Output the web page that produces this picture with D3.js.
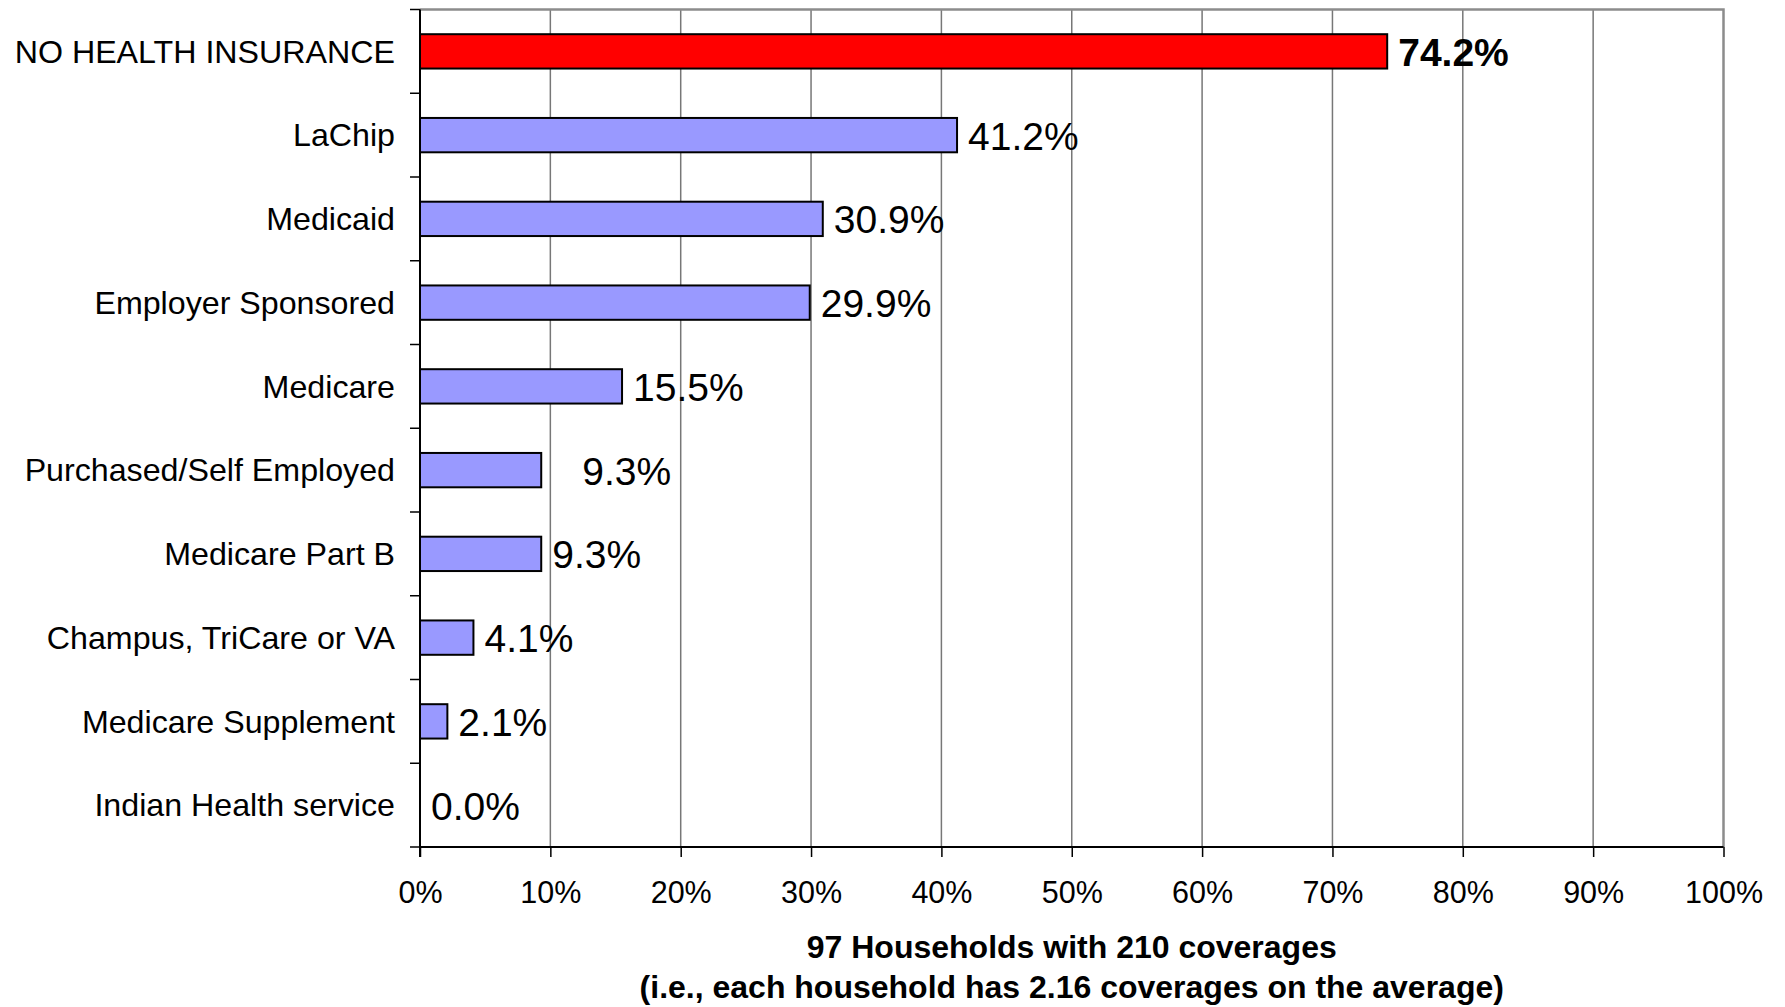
<!DOCTYPE html>
<html>
<head>
<meta charset="utf-8">
<script src="https://cdn.jsdelivr.net/npm/d3@7"></script>
<style>
  html, body { margin: 0; padding: 0; background: #fff; }
  svg { display: block; font-family: "Liberation Sans", Arial, sans-serif; }
</style>
</head>
<body>
<svg id="chart" width="1785" height="1007"></svg>
<script>
const categories = [
  "NO HEALTH INSURANCE",
  "LaChip",
  "Medicaid",
  "Employer Sponsored",
  "Medicare",
  "Purchased/Self Employed",
  "Medicare Part B",
  "Champus, TriCare or VA",
  "Medicare Supplement",
  "Indian Health service"
];
const values = [74.2, 41.2, 30.9, 29.9, 15.5, 9.3, 9.3, 4.1, 2.1, 0.0];
const xTicks = [0, 10, 20, 30, 40, 50, 60, 70, 80, 90, 100];
const tickLabels = ["0%", "10%", "20%", "30%", "40%", "50%", "60%", "70%", "80%", "90%", "100%"];
const titleLines = ["97 Households with 210 coverages", "(i.e., each household has 2.16 coverages on the average)"];

const svg = d3.select("#chart");
const L = 420, R = 1723.5, T = 9.5, B = 847;

const x = d3.scaleLinear().domain([0, 100]).range([L, R]);
const y = d3.scaleBand().domain(categories).range([T, B]).paddingInner(0.59).paddingOuter(0.295);
const step = y.step();

// gridlines
svg.append("g").selectAll("line").data(xTicks.slice(1, -1)).join("line")
  .attr("x1", d => x(d)).attr("x2", d => x(d))
  .attr("y1", T).attr("y2", B)
  .attr("stroke", "#777").attr("stroke-width", 1.5);

// top & right frame (gray)
svg.append("path")
  .attr("d", `M${L},${T}H${R}V${B}`)
  .attr("fill", "none").attr("stroke", "#8c8c8c").attr("stroke-width", 2.5);

// bars
svg.append("g").selectAll("rect").data(values).join("rect")
  .attr("x", x(0))
  .attr("y", (d, i) => y(categories[i]))
  .attr("width", d => x(d) - x(0))
  .attr("height", y.bandwidth())
  .attr("fill", (d, i) => i === 0 ? "#FF0000" : "#9999FF")
  .attr("stroke", "#000").attr("stroke-width", 2)
  .style("display", d => d > 0 ? null : "none");

// axes
const xAxis = d3.axisBottom(x).tickValues(xTicks).tickFormat((d, i) => tickLabels[i]).tickSize(10).tickPadding(24);
const gx = svg.append("g").attr("transform", `translate(0,${B})`).call(xAxis);
gx.select(".domain").attr("stroke", "#000").attr("stroke-width", 2).attr("d", `M${L},0H${R}`);
gx.selectAll(".tick line").attr("stroke", "#000").attr("stroke-width", 1.5);
gx.selectAll(".tick text").attr("font-size", 30.5).attr("fill", "#000")
  .attr("font-family", "'Liberation Sans', Arial, sans-serif").attr("dy", "0.71em");

// left axis line + ticks at category boundaries
svg.append("line").attr("x1", L).attr("x2", L).attr("y1", T).attr("y2", B + 10)
  .attr("stroke", "#000").attr("stroke-width", 2);
svg.append("g").selectAll("line").data(d3.range(categories.length + 1)).join("line")
  .attr("x1", L - 10).attr("x2", L)
  .attr("y1", i => T + i * step).attr("y2", i => T + i * step)
  .attr("stroke", "#000").attr("stroke-width", 1.5);

// category labels
svg.append("g").selectAll("text").data(categories).join("text")
  .attr("x", 395)
  .attr("y", d => y(d) + y.bandwidth() / 2 + 11.3)
  .attr("text-anchor", "end")
  .attr("font-size", 32.2)
  .attr("fill", "#000")
  .text(d => d);

// value labels
const labelNudge = { "Purchased/Self Employed": 30 };
svg.append("g").selectAll("text").data(values).join("text")
  .attr("x", (d, i) => x(d) + 11 + (labelNudge[categories[i]] || 0))
  .attr("y", (d, i) => y(categories[i]) + y.bandwidth() / 2 + 14.5)
  .attr("font-size", 39)
  .attr("font-weight", (d, i) => i === 0 ? "bold" : "normal")
  .attr("fill", "#000")
  .text(d => d.toFixed(1) + "%");

// axis title
svg.append("g").selectAll("text").data(titleLines).join("text")
  .attr("x", (L + R) / 2)
  .attr("y", (d, i) => 958 + i * 40)
  .attr("text-anchor", "middle")
  .attr("font-size", 32)
  .attr("font-weight", "bold")
  .attr("fill", "#000")
  .text(d => d);
</script>
</body>
</html>
